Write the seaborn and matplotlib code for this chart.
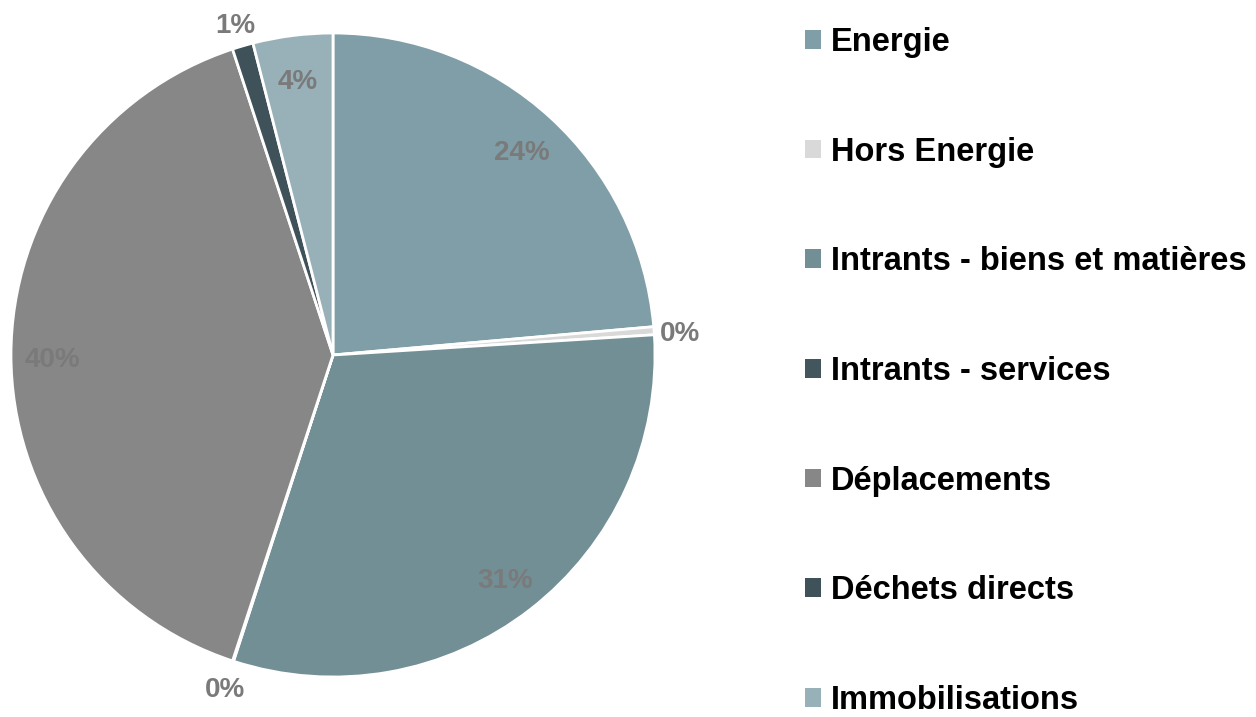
import numpy as np
import matplotlib
matplotlib.use("Agg")
import matplotlib.pyplot as plt
from matplotlib.patches import Patch
import seaborn as sns

# ── Data ──
categories = ["Energie", "Hors Energie", "Intrants - biens et matières",
              "Intrants - services", "Déplacements", "Déchets directs",
              "Immobilisations"]
shares = [23.6, 0.4, 31.0, 0.05, 39.9, 1.05, 4.0]
pct_labels = ["24%", "0%", "31%", "0%", "40%", "1%", "4%"]
colors = ["#7F9EA7", "#D9D9D9", "#728F96", "#44565D", "#878787", "#3F5159", "#98B1B9"]

# ── Style ──
sns.set_theme(style="white")
plt.rcParams['font.family'] = ['Liberation Sans', 'DejaVu Sans']
palette = sns.color_palette(colors)

fig = plt.figure(figsize=(12.56, 7.17), dpi=100)
ax = fig.add_axes([11 / 1256, 40 / 717, 644 / 1256, 644 / 717])

wedges, _ = ax.pie(shares, colors=palette, startangle=90, counterclock=False,
                   wedgeprops=dict(edgecolor="white", linewidth=2))
ax.set_aspect("equal")
ax.set_xlim(-1.0, 1.0)
ax.set_ylim(-1.0, 1.0)

# ── Percent labels: inside for big slices, outside for tiny ones ──
for w, lab, v in zip(wedges, pct_labels, shares):
    mid = np.deg2rad((w.theta1 + w.theta2) / 2)
    r = 0.87 if v >= 3 else 1.08
    ax.text(r * np.cos(mid), r * np.sin(mid) - 0.015, lab, ha="center", va="center",
            fontsize=20, fontweight="bold", color="#7A7A7A", clip_on=False)

handles = [Patch(facecolor=c, edgecolor="none") for c in palette]
fig.legend(handles, categories, loc="upper left", bbox_to_anchor=(792 / 1256, 1.0 - 14 / 717),
           frameon=False, prop=dict(size=23.5, weight="bold"), labelcolor="black",
           handlelength=0.5, handleheight=0.5, handletextpad=0.3, labelspacing=2.41,
           borderaxespad=0)

plt.savefig("out.png", dpi=100)
